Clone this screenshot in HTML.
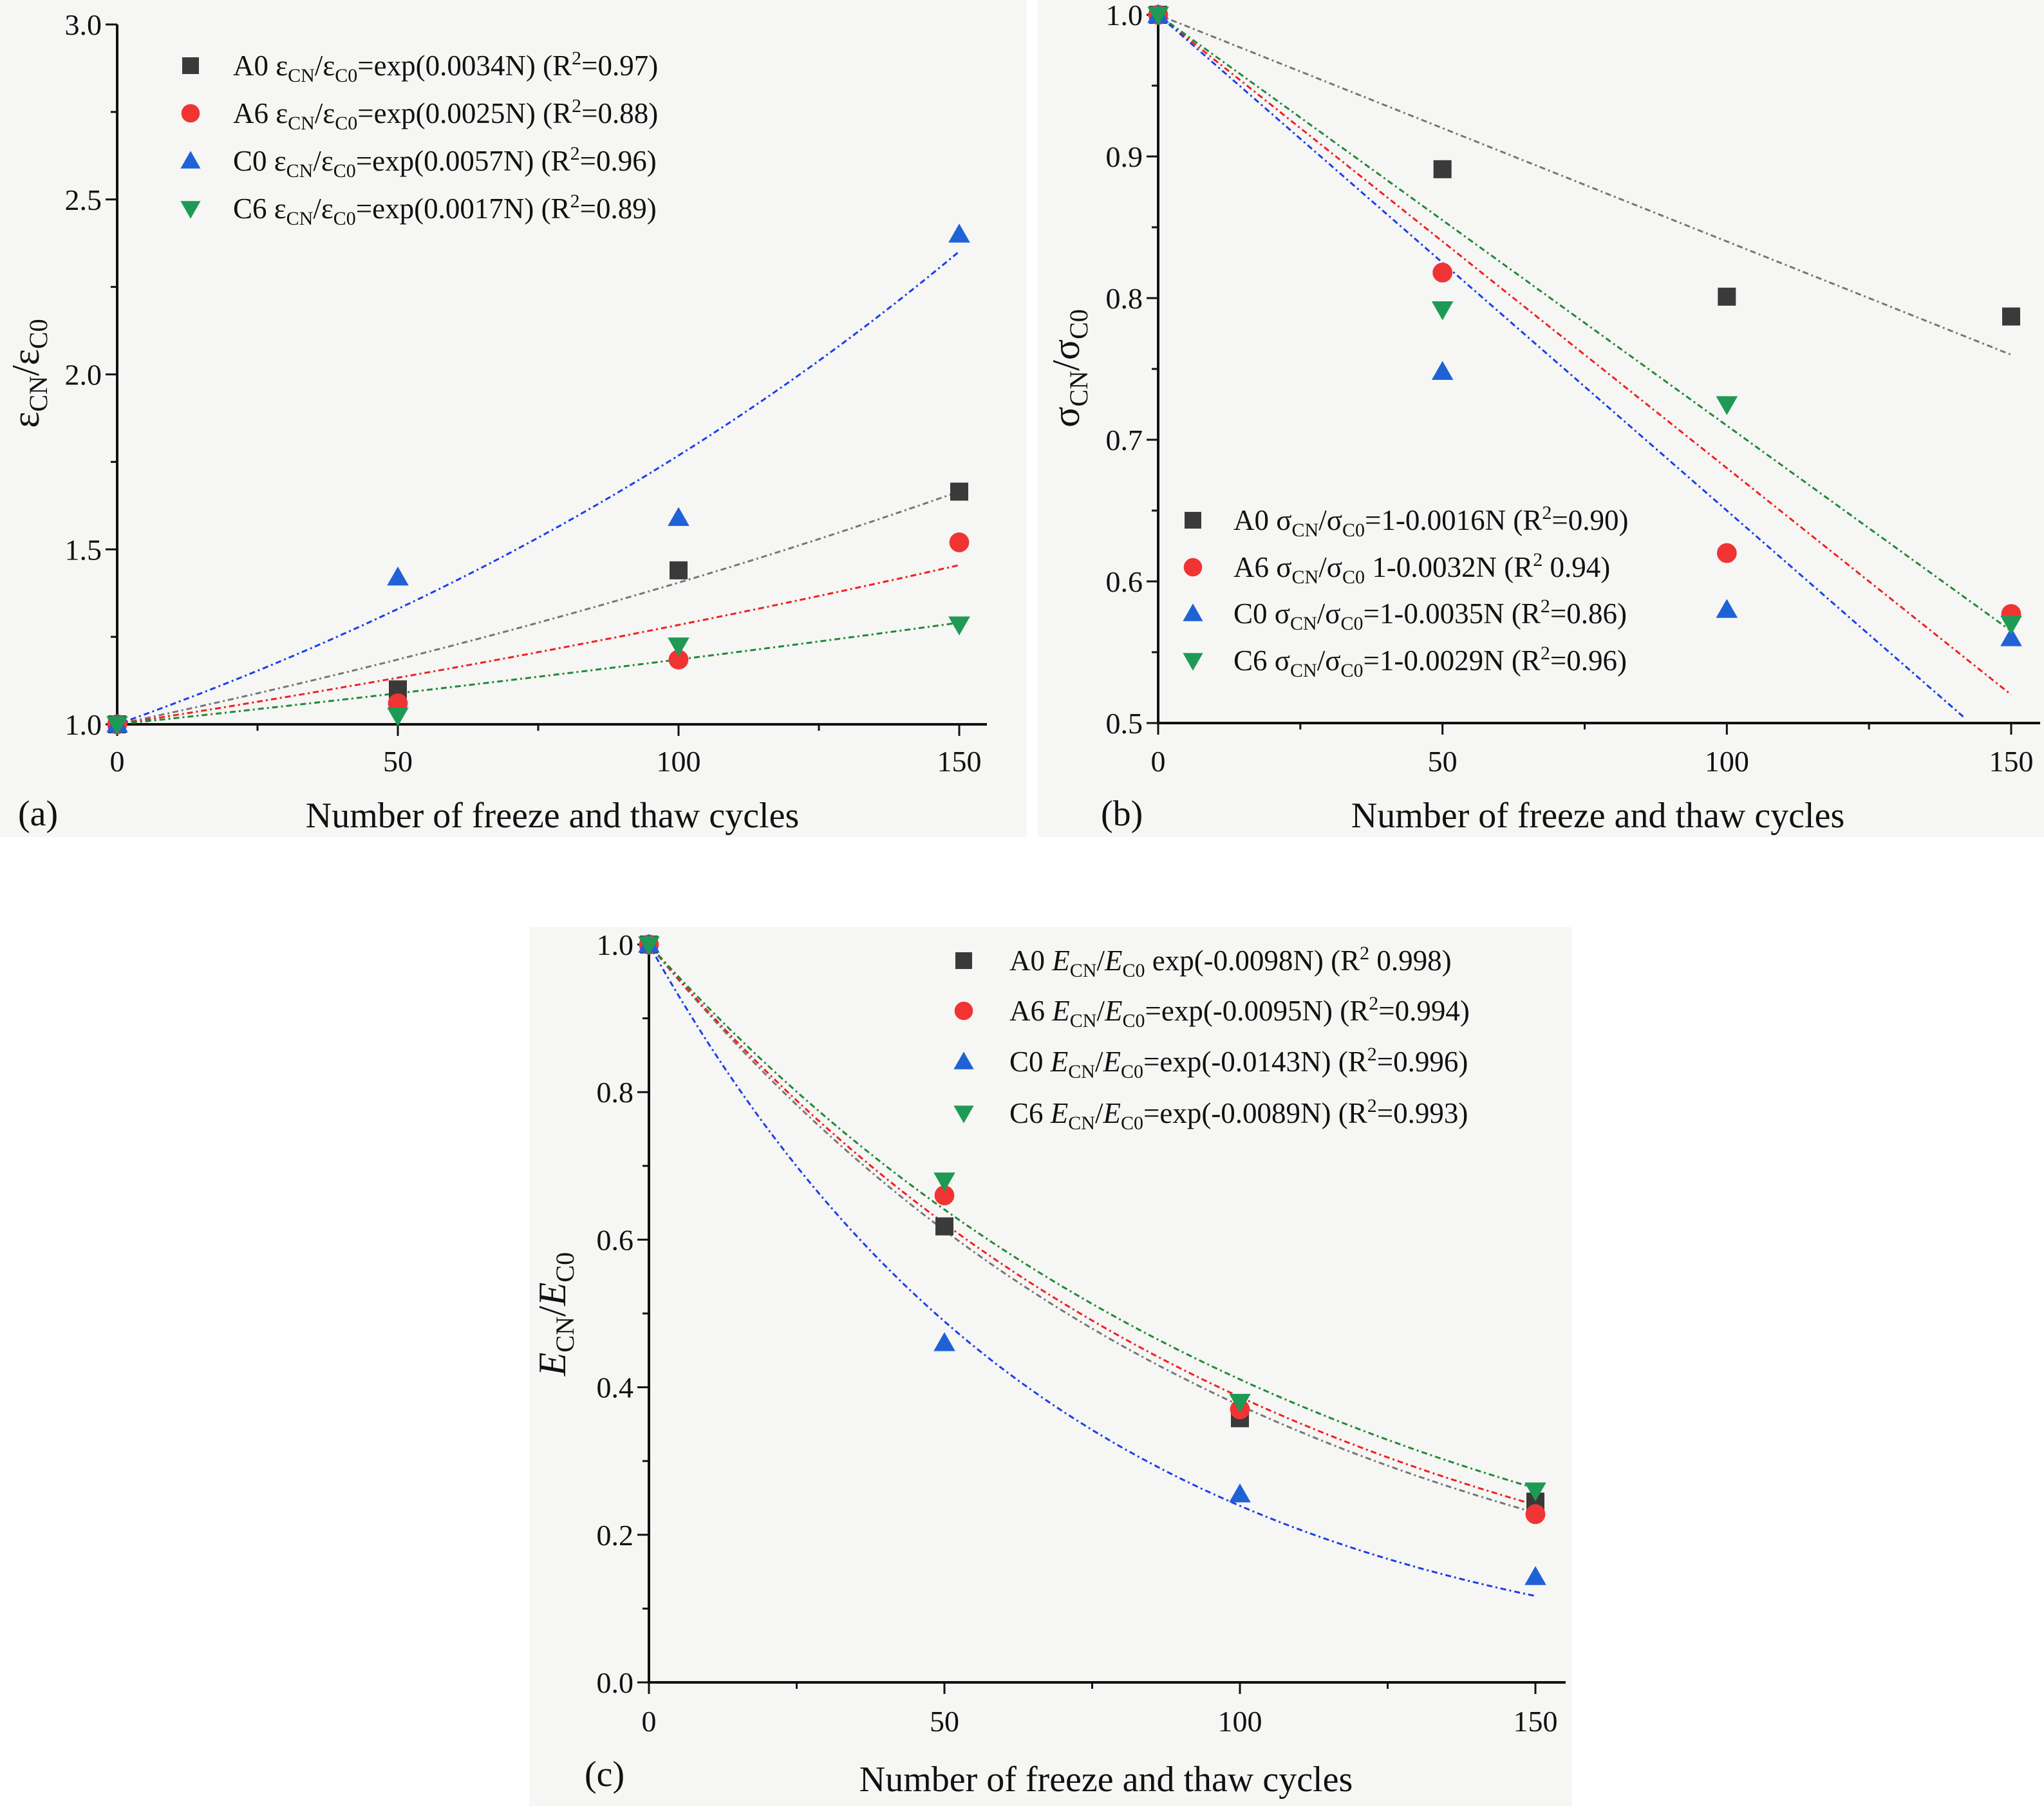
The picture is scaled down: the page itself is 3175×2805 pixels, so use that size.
<!DOCTYPE html>
<html><head><meta charset="utf-8"><style>
html,body{margin:0;padding:0;background:#fff;}
svg{display:block;}
text{font-family:"Liberation Serif","DejaVu Serif",serif;fill:#111;}
</style></head><body>
<svg id="fig" width="3175" height="2805" viewBox="0 0 3175 2805" xmlns="http://www.w3.org/2000/svg">
<rect x="0" y="0" width="3175" height="2805" fill="#ffffff"/>
<rect x="0" y="0" width="1595" height="1300" fill="#f6f6f4"/>
<rect x="1612" y="0" width="1563" height="1300" fill="#f6f6f4"/>
<rect x="822" y="1440" width="1620" height="1365" fill="#f6f6f4"/>
<g id="layer"></g>
</svg>
<script>
const NS='http://www.w3.org/2000/svg';
// ---- data ----
const cycles=[0,50,100,150];
const seriesNames=['A0','A6','C0','C6'];
// panel (a) strain ratio
const aA0=[1.0,1.10,1.44,1.665];
const aA6=[1.0,1.06,1.185,1.52];
const aC0=[1.0,1.42,1.59,2.40];
const aC6=[1.0,1.025,1.225,1.285];
const aFitK=[0.0034,0.0025,0.0057,0.0017];
const aYTicks=[1.0,1.5,2.0,2.5,3.0];
// panel (b) strength ratio
const bA0=[1.0,0.891,0.801,0.787];
const bA6=[1.0,0.818,0.620,0.577];
const bC0=[1.0,0.748,0.580,0.560];
const bC6=[1.0,0.792,0.725,0.570];
const bFitK=[0.0016,0.0032,0.0035,0.0029];
const bYTicks=[0.5,0.6,0.7,0.8,0.9,1.0];
// panel (c) modulus ratio
const cA0=[1.0,0.618,0.358,0.245];
const cA6=[1.0,0.660,0.370,0.228];
const cC0=[1.0,0.460,0.255,0.143];
const cC6=[1.0,0.680,0.380,0.260];
const cFitK=[0.0098,0.0095,0.0143,0.0089];
const cYTicks=[0.0,0.2,0.4,0.6,0.8,1.0];
const xTicks=[0,50,100,150];

const colors=['#3a3a3a','#f03434','#1f62d6','#1e9a55'];
const lineColors=['#777777','#f02020','#1a3fe8','#1f8a3a'];
const layer=document.getElementById('layer');

function mk(tag,attrs,parent){const e=document.createElementNS(NS,tag);for(const k in attrs)e.setAttribute(k,attrs[k]);(parent||layer).appendChild(e);return e;}

function marker(g,kind,cx,cy,color,s){
  let e;
  if(kind===0){e=mk('rect',{x:cx-s,y:cy-s,width:2*s,height:2*s,fill:color},g);}
  else if(kind===1){e=mk('circle',{cx:cx,cy:cy,r:s*1.1,fill:color},g);}
  else if(kind===2){e=mk('polygon',{points:`${cx},${cy-s*1.2} ${cx-s*1.2},${cy+s*0.9} ${cx+s*1.2},${cy+s*0.9}`,fill:color},g);}
  else {e=mk('polygon',{points:`${cx},${cy+s*1.2} ${cx-s*1.2},${cy-s*0.9} ${cx+s*1.2},${cy-s*0.9}`,fill:color},g);}
  return e;
}

function panel(p){
  const g=mk('g',{});
  
  
  const X=v=>p.x0+(v/150)*(p.x1-p.x0);
  const Y=v=>p.y0-(v-p.ymin)/(p.ymax-p.ymin)*(p.y0-p.y1);
  const ya=mk('line',{x1:X(0),y1:Y(p.ymax),x2:X(0),y2:Y(p.ymin),stroke:'#111','stroke-width':4},g);
  
  
  const xa=mk('line',{x1:X(0)-2,y1:Y(p.ymin),x2:p.xend,y2:Y(p.ymin),stroke:'#111','stroke-width':4},g);
  
  
  p.yticks.forEach((t,i)=>{
    const tk=mk('line',{x1:X(0)-18,y1:Y(t),x2:X(0),y2:Y(t),stroke:'#111','stroke-width':3},g);
    
    
    const lb=mk('text',{x:X(0)-24,y:Y(t)+16,'text-anchor':'end','font-size':46},g);
    lb.textContent=t.toFixed(1);
    
    
    if(i<p.yticks.length-1){
      const m=(t+p.yticks[i+1])/2;
      const mt=mk('line',{x1:X(0)-10,y1:Y(m),x2:X(0),y2:Y(m),stroke:'#111','stroke-width':3},g);
      
      
    }
  });
  xTicks.forEach((t,i)=>{
    const tk=mk('line',{x1:X(t),y1:Y(p.ymin),x2:X(t),y2:Y(p.ymin)+18,stroke:'#111','stroke-width':3},g);
    
    
    const lb=mk('text',{x:X(t),y:p.xlabY,'text-anchor':'middle','font-size':46},g);
    lb.textContent=String(t);
    
    
    if(i<xTicks.length-1){
      const m=t+25;
      const mt=mk('line',{x1:X(m),y1:Y(p.ymin),x2:X(m),y2:Y(p.ymin)+10,stroke:'#111','stroke-width':3},g);
      
      
    }
  });
  p.fitK.forEach((k,si)=>{
    let pts=[];
    for(let n=0;n<=150;n+=1){
      const v=p.fit(k,n);
      if(v<p.ymin)break;
      pts.push(X(n).toFixed(1)+','+Y(v).toFixed(1));
    }
    const pl=mk('polyline',{points:pts.join(' '),fill:'none',stroke:lineColors[si],'stroke-width':3,'stroke-dasharray':'9,5,3,5'},g);
    
    
  });
  p.series.forEach((arr,si)=>{
    arr.forEach((v,j)=>{
      const m=marker(g,si,X(cycles[j]),Y(v),colors[si],14);
      
      
    });
  });
  p.legendRows.forEach((ly,si)=>{
    const m=marker(g,si,p.legX,ly,colors[si],13);
    
    
  });
  return g;
}

panel({name:'chart-a',x0:182,x1:1490,xend:1533,y0:1125,y1:38,ymin:1.0,ymax:3.0,yticks:aYTicks,xlabY:1198,
  fitK:aFitK,fit:(k,n)=>Math.exp(k*n),series:[aA0,aA6,aC0,aC6],legX:296,legendRows:[102,176,250,324]});
panel({name:'chart-b',x0:1799,x1:3124,xend:3169,y0:1123,y1:23,ymin:0.5,ymax:1.0,yticks:bYTicks,xlabY:1198,
  fitK:bFitK,fit:(k,n)=>1-k*n,series:[bA0,bA6,bC0,bC6],legX:1853,legendRows:[808,881,953,1026]});
panel({name:'chart-c',x0:1008,x1:2385,xend:2432,y0:2613,y1:1467,ymin:0.0,ymax:1.0,yticks:cYTicks,xlabY:2689,
  fitK:cFitK,fit:(k,n)=>Math.exp(-k*n),series:[cA0,cA6,cC0,cC6],legX:1497,legendRows:[1492,1570,1649,1729]});
</script>
<svg style="position:absolute;left:0;top:0" width="3175" height="2805" viewBox="0 0 3175 2805">
<g font-size="45">
<text x="362" y="117">A0 ε<tspan dy="10" font-size="30">CN</tspan><tspan dy="-10">/ε</tspan><tspan dy="10" font-size="30">C0</tspan><tspan dy="-10">=exp(0.0034N) (R</tspan><tspan dy="-17" font-size="30">2</tspan><tspan dy="17">=0.97)</tspan></text>
<text x="362" y="191">A6 ε<tspan dy="10" font-size="30">CN</tspan><tspan dy="-10">/ε</tspan><tspan dy="10" font-size="30">C0</tspan><tspan dy="-10">=exp(0.0025N) (R</tspan><tspan dy="-17" font-size="30">2</tspan><tspan dy="17">=0.88)</tspan></text>
<text x="362" y="265">C0 ε<tspan dy="10" font-size="30">CN</tspan><tspan dy="-10">/ε</tspan><tspan dy="10" font-size="30">C0</tspan><tspan dy="-10">=exp(0.0057N) (R</tspan><tspan dy="-17" font-size="30">2</tspan><tspan dy="17">=0.96)</tspan></text>
<text x="362" y="339">C6 ε<tspan dy="10" font-size="30">CN</tspan><tspan dy="-10">/ε</tspan><tspan dy="10" font-size="30">C0</tspan><tspan dy="-10">=exp(0.0017N) (R</tspan><tspan dy="-17" font-size="30">2</tspan><tspan dy="17">=0.89)</tspan></text>
</g>
<g font-size="45">
<text x="1916" y="823">A0 σ<tspan dy="10" font-size="30">CN</tspan><tspan dy="-10">/σ</tspan><tspan dy="10" font-size="30">C0</tspan><tspan dy="-10">=1-0.0016N (R</tspan><tspan dy="-17" font-size="30">2</tspan><tspan dy="17">=0.90)</tspan></text>
<text x="1916" y="896">A6 σ<tspan dy="10" font-size="30">CN</tspan><tspan dy="-10">/σ</tspan><tspan dy="10" font-size="30">C0</tspan><tspan dy="-10">  1-0.0032N (R</tspan><tspan dy="-17" font-size="30">2</tspan><tspan dy="17">  0.94)</tspan></text>
<text x="1916" y="968">C0 σ<tspan dy="10" font-size="30">CN</tspan><tspan dy="-10">/σ</tspan><tspan dy="10" font-size="30">C0</tspan><tspan dy="-10">=1-0.0035N (R</tspan><tspan dy="-17" font-size="30">2</tspan><tspan dy="17">=0.86)</tspan></text>
<text x="1916" y="1041">C6 σ<tspan dy="10" font-size="30">CN</tspan><tspan dy="-10">/σ</tspan><tspan dy="10" font-size="30">C0</tspan><tspan dy="-10">=1-0.0029N (R</tspan><tspan dy="-17" font-size="30">2</tspan><tspan dy="17">=0.96)</tspan></text>
</g>
<g font-size="45">
<text x="1568" y="1507">A0 <tspan font-style="italic">E</tspan><tspan dy="10" font-size="30">CN</tspan><tspan dy="-10">/</tspan><tspan font-style="italic">E</tspan><tspan dy="10" font-size="30">C0</tspan><tspan dy="-10">  exp(-0.0098N) (R</tspan><tspan dy="-17" font-size="30">2</tspan><tspan dy="17">  0.998)</tspan></text>
<text x="1568" y="1585">A6 <tspan font-style="italic">E</tspan><tspan dy="10" font-size="30">CN</tspan><tspan dy="-10">/</tspan><tspan font-style="italic">E</tspan><tspan dy="10" font-size="30">C0</tspan><tspan dy="-10">=exp(-0.0095N) (R</tspan><tspan dy="-17" font-size="30">2</tspan><tspan dy="17">=0.994)</tspan></text>
<text x="1568" y="1664">C0 <tspan font-style="italic">E</tspan><tspan dy="10" font-size="30">CN</tspan><tspan dy="-10">/</tspan><tspan font-style="italic">E</tspan><tspan dy="10" font-size="30">C0</tspan><tspan dy="-10">=exp(-0.0143N) (R</tspan><tspan dy="-17" font-size="30">2</tspan><tspan dy="17">=0.996)</tspan></text>
<text x="1568" y="1744">C6 <tspan font-style="italic">E</tspan><tspan dy="10" font-size="30">CN</tspan><tspan dy="-10">/</tspan><tspan font-style="italic">E</tspan><tspan dy="10" font-size="30">C0</tspan><tspan dy="-10">=exp(-0.0089N) (R</tspan><tspan dy="-17" font-size="30">2</tspan><tspan dy="17">=0.993)</tspan></text>
</g>
<text x="858" y="1285" font-size="56" text-anchor="middle">Number of freeze and thaw cycles</text>
<text x="2482" y="1285" font-size="56" text-anchor="middle">Number of freeze and thaw cycles</text>
<text x="1718" y="2782" font-size="56" text-anchor="middle">Number of freeze and thaw cycles</text>
<text x="28" y="1282" font-size="56">(a)</text>
<text x="1710" y="1282" font-size="56">(b)</text>
<text x="908" y="2774" font-size="56">(c)</text>
<text transform="translate(60,580) rotate(-90)" font-size="60" text-anchor="middle">ε<tspan dy="13" font-size="40">CN</tspan><tspan dy="-13">/ε</tspan><tspan dy="13" font-size="40">C0</tspan></text>
<text transform="translate(1676,572) rotate(-90)" font-size="60" text-anchor="middle">σ<tspan dy="13" font-size="40">CN</tspan><tspan dy="-13">/σ</tspan><tspan dy="13" font-size="40">C0</tspan></text>
<text transform="translate(878,2041) rotate(-90)" font-size="60" text-anchor="middle"><tspan font-style="italic">E</tspan><tspan dy="13" font-size="40">CN</tspan><tspan dy="-13">/</tspan><tspan font-style="italic">E</tspan><tspan dy="13" font-size="40">C0</tspan></text>
</svg>
</body></html>
